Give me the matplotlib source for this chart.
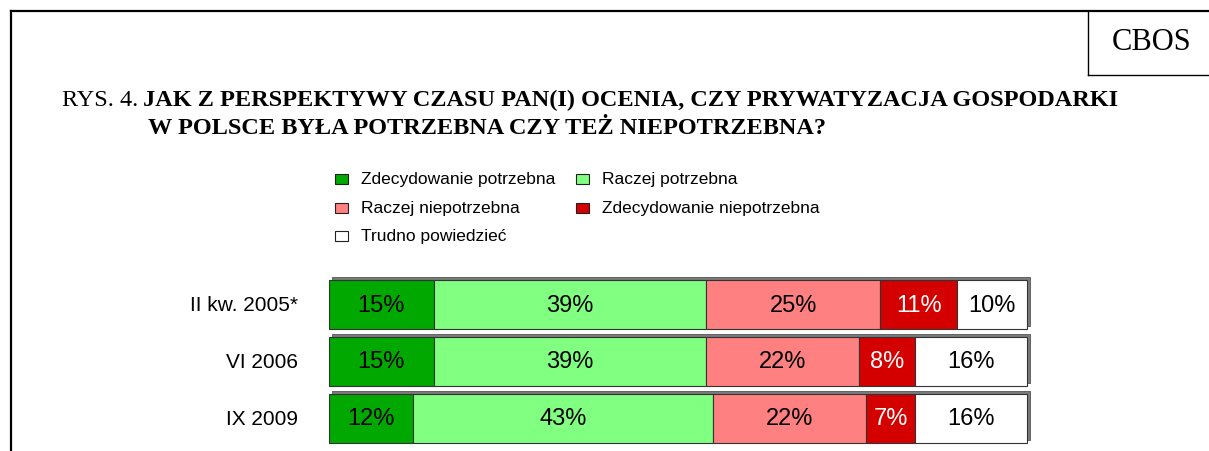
import matplotlib
matplotlib.use("Agg")
import numpy as np
import matplotlib.pyplot as plt
from matplotlib.patches import Rectangle
from matplotlib.lines import Line2D
from matplotlib import transforms

# data
categories = ["II kw. 2005*", "VI 2006", "IX 2009"]
series_names = ["Zdecydowanie potrzebna", "Raczej potrzebna", "Raczej niepotrzebna",
                "Zdecydowanie niepotrzebna", "Trudno powiedzieć"]
zdec_potrz = [15, 15, 12]
racz_potrz = [39, 39, 43]
racz_niep = [25, 22, 22]
zdec_niep = [11, 8, 7]
trudno = [10, 16, 16]

colors = ["#00a800", "#80ff80", "#ff8080", "#d40000", "#ffffff"]
text_colors = ["black", "black", "black", "white", "black"]

W, H = 1209, 452
fig = plt.figure(figsize=(W / 100, H / 100), dpi=100, facecolor="w")

def fx(x): return x / W
def fy(y): return 1 - y / H

# frame lines
fig.add_artist(Line2D([fx(11), fx(W)], [fy(12), fy(12)], color="k", lw=1.6))
fig.add_artist(Line2D([fx(11), fx(11)], [fy(12), fy(H)], color="k", lw=1.6))
fig.add_artist(Line2D([fx(1088), fx(1088)], [fy(12), fy(76)], color="k", lw=1.0))
fig.add_artist(Line2D([fx(1088), fx(W)], [fy(76), fy(76)], color="k", lw=1.0))
fig.text(fx(1152), fy(43), "CBOS", family="Liberation Serif", fontsize=22,
         ha="center", va="center")

# title
t1 = fig.text(fx(62), fy(100), "RYS. 4.", family="Liberation Serif", fontsize=17.5,
              ha="left", va="center")
fig.canvas.draw()
bb = t1.get_window_extent()
fig.text(bb.x1 / W + fx(5), fy(100),
         "JAK Z PERSPEKTYWY CZASU PAN(I) OCENIA, CZY PRYWATYZACJA GOSPODARKI",
         family="Liberation Serif", fontsize=17.5, weight="bold", ha="left", va="center")
fig.text(fx(148), fy(129), "W POLSCE BYŁA POTRZEBNA CZY TEŻ NIEPOTRZEBNA?",
         family="Liberation Serif", fontsize=17.5, weight="bold", ha="left", va="center")

# legend (row-wise, two columns)
leg_pos = [(335, 180), (576, 180), (335, 209), (576, 209), (335, 237)]
for (lx, ly), name, c in zip(leg_pos, series_names, colors):
    fig.add_artist(Rectangle((fx(lx), fy(ly + 5)), 13 / W, 10 / H, facecolor=c,
                             edgecolor="#222222", lw=0.8, transform=fig.transFigure))
    fig.text(fx(lx + 26), fy(ly), name, family="Liberation Sans", fontsize=12.5,
             ha="left", va="center")

# bars
ax = fig.add_axes([fx(329), fy(444), 698 / W, 163 / H])
ax.set_xlim(0, 100)
ax.set_ylim(2.43, -0.43)
ax.axis("off")

series = [zdec_potrz, racz_potrz, racz_niep, zdec_niep, trudno]
y = np.arange(len(categories))
totals = np.sum(series, axis=0)

# 3d-ish shadow strip on top and right
shadow = ax.barh(y, totals, height=0.86, color="#7a7a7a", edgecolor="#555555", lw=0.6)
off = transforms.offset_copy(ax.transData, fig=fig, x=3, y=3, units="dots")
for p in shadow:
    p.set_transform(off)
    p.set_clip_on(False)

left = np.zeros(len(categories))
for vals, c, tc in zip(series, colors, text_colors):
    bars = ax.barh(y, vals, left=left, height=0.86, color=c, edgecolor="#333333", lw=0.8)
    for p in bars:
        p.set_clip_on(False)
    for yi, v, l in zip(y, vals, left):
        ax.text(l + v / 2, yi, f"{v}%", ha="center", va="center", color=tc,
                family="Liberation Sans", fontsize=17)
    left += vals

for yi, cat in zip(y, categories):
    ax.text(-4.4, yi, cat, ha="right", va="center", family="Liberation Sans", fontsize=15)

fig.savefig("out.png", dpi=100)
